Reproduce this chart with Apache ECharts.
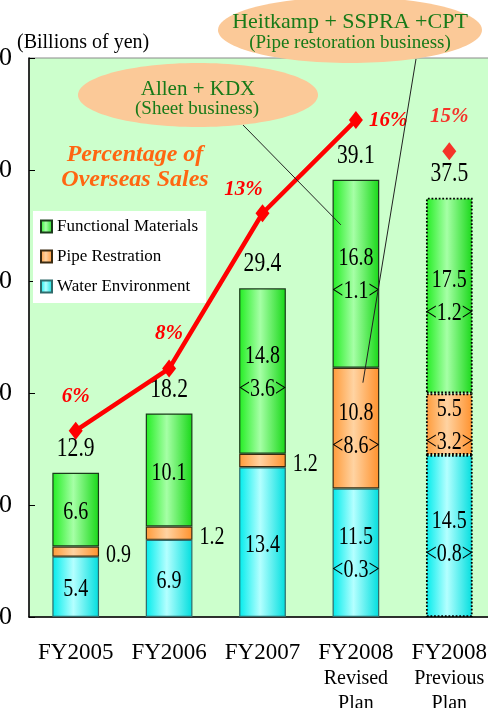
<!DOCTYPE html>
<html>
<head>
<meta charset="utf-8">
<script src="https://cdn.jsdelivr.net/npm/echarts@6/dist/echarts.min.js"></script>
<style>
  html, body { margin: 0; padding: 0; background: #ffffff; }
  #chart { width: 488px; height: 708px; }
</style>
</head>
<body>
<div id="chart"></div>
<script>
// Sales by business segment (billions of yen) and share of overseas sales
const years = ['FY2005', 'FY2006', 'FY2007', 'FY2008', 'FY2008'];
const yearNotes = ['', '', '', 'Revised\nPlan', 'Previous\nPlan'];
const waterEnv = [5.4, 6.9, 13.4, 11.5, 14.5];
const pipeRest = [0.9, 1.2, 1.2, 10.8, 5.5];
const functional = [6.6, 10.1, 14.8, 16.8, 17.5];
const totals = [12.9, 18.2, 29.4, 39.1, 37.5];
// overseas portion of each segment, shown in angle brackets
const waterOverseas = [null, null, null, 0.3, 0.8];
const pipeOverseas = [null, null, null, 8.6, 3.2];
const funcOverseas = [null, null, 3.6, 1.1, 1.2];
const overseasPct = [6, 8, 13, 16, 15];
const yTicks = [0, 10, 20, 30, 40, 50];

const SERIF = '"Liberation Serif", "Times New Roman", serif';
const categories = years.map((y, i) => yearNotes[i] ? y + '\n' + yearNotes[i] : y);
const planIndex = 4; // previous plan column, drawn with dotted outline

const grad = (a, b, c) => new echarts.graphic.LinearGradient(0, 0, 1, 0, [
  { offset: 0, color: a }, { offset: 0.45, color: b }, { offset: 1, color: c }
]);
const greenFill = grad('#22ee22', '#a6ffa6', '#18d818');
const orangeFill = grad('#ff9a38', '#ffd3a2', '#ff912c');
const cyanFill = grad('#00ecec', '#b4ffff', '#00dede');

const dotted = { borderType: 'dotted', borderColor: '#000', borderWidth: 1.8 };
const withPlanStyle = arr => arr.map((v, i) => i === planIndex ? { value: v, itemStyle: dotted } : v);

// text labels inside / beside / above the stacked bars (narrow serif look)
function renderBarLabels(params, api) {
  const i = api.value(0);
  const base = api.coord([i, 0]);
  const xc = base[0];
  const half = api.size([1, 0])[0] * 0.25;
  const w = waterEnv[i], p = pipeRest[i], f = functional[i];
  const yW = api.coord([i, w])[1];
  const yP = api.coord([i, w + p])[1];
  const yF = api.coord([i, w + p + f])[1];
  const kids = [];
  const txt = (s, x, y, align, size) => kids.push({
    type: 'text', x: x, y: y, scaleX: 0.8,
    style: { text: s, fill: '#000', fontSize: size || 25, fontFamily: SERIF, align: align || 'center', verticalAlign: 'middle' }
  });
  const seg = (val, extra, yBottom, yTop) => {
    const mid = (yBottom + yTop) / 2;
    if (yBottom - yTop < 28) {
      txt(val.toFixed(1), xc + half + 7, mid + 4, 'left');
    } else if (extra != null) {
      txt(val.toFixed(1), xc, mid - 15);
      txt('<' + extra.toFixed(1) + '>', xc, mid + 18);
    } else {
      txt(val.toFixed(1), xc, mid + 3);
    }
  };
  seg(w, waterOverseas[i], base[1], yW);
  seg(p, pipeOverseas[i], yW, yP);
  seg(f, funcOverseas[i], yP, yF);
  txt(totals[i].toFixed(1), xc, yF - 24, 'center', 27);
  return { type: 'group', children: kids };
}

const pctLabel = { show: true, formatter: '{c}%', color: '#ff0000', fontSize: 21, fontStyle: 'italic', fontWeight: 'bold', fontFamily: SERIF, position: 'top', distance: 15 };

const chart = echarts.init(document.getElementById('chart'));
chart.setOption({
  animation: false,
  grid: {
    left: 29, top: 58, width: 467, height: 559,
    outerBoundsMode: 'none', containLabel: false,
    show: true, backgroundColor: '#ccffcc', borderColor: '#8a8a8a', borderWidth: 1
  },
  legend: {
    data: ['Functional Materials', 'Pipe Restration', 'Water Environment'],
    orient: 'vertical', left: 33, top: 211,
    backgroundColor: '#ffffff', padding: [7, 8, 8, 7],
    itemGap: 13, itemWidth: 11, itemHeight: 12, icon: 'rect',
    textStyle: { fontSize: 17, fontFamily: SERIF, color: '#000' },
    selectedMode: false
  },
  xAxis: {
    type: 'category', data: categories,
    axisLine: { lineStyle: { color: '#000', width: 1.5 } },
    axisTick: { inside: true, length: 7, lineStyle: { color: '#444' } },
    axisLabel: {
      margin: 23, color: '#000', interval: 0,
      formatter: v => {
        const parts = v.split('\n');
        return ['{fy|' + parts[0] + '}'].concat(parts.slice(1).map(s => '{sub|' + s + '}')).join('\n');
      },
      rich: {
        fy: { fontSize: 23, fontFamily: SERIF, color: '#000', lineHeight: 26 },
        sub: { fontSize: 20, fontFamily: SERIF, color: '#000', lineHeight: 25 }
      }
    }
  },
  yAxis: [
    {
      type: 'value', min: yTicks[0], max: yTicks[yTicks.length - 1], interval: 10,
      axisLine: { show: true, lineStyle: { color: '#000', width: 1.5 } },
      axisTick: { show: true, inside: true, length: 6, lineStyle: { color: '#000' } },
      axisLabel: { margin: 17, fontSize: 26, fontFamily: SERIF, color: '#000' },
      splitLine: { show: false }
    },
    { type: 'value', min: 0, max: 18, show: false }
  ],
  series: [
    {
      name: 'Water Environment', type: 'bar', stack: 'sales', barWidth: '50%',
      itemStyle: { color: cyanFill, borderColor: '#2f6b6b', borderWidth: 1.2 },
      data: withPlanStyle(waterEnv)
    },
    {
      name: 'Pipe Restration', type: 'bar', stack: 'sales', barWidth: '50%',
      itemStyle: { color: orangeFill, borderColor: '#3a2a10', borderWidth: 1.2 },
      data: withPlanStyle(pipeRest)
    },
    {
      name: 'Functional Materials', type: 'bar', stack: 'sales', barWidth: '50%',
      itemStyle: { color: greenFill, borderColor: '#1a3a1a', borderWidth: 1.2 },
      data: withPlanStyle(functional)
    },
    {
      name: 'Bar labels', type: 'custom', coordinateSystem: 'cartesian2d', silent: true, z: 5,
      renderItem: renderBarLabels,
      encode: { x: 0, y: 1 },
      data: totals.map((t, i) => [i, t])
    },
    {
      name: 'Overseas share', type: 'line', yAxisIndex: 1, z: 6,
      symbol: 'diamond', symbolSize: [14, 18],
      lineStyle: { color: '#ff0000', width: 4.5 },
      itemStyle: { color: '#ff0000' },
      label: pctLabel,
      data: overseasPct.map((v, i) => {
        if (i === planIndex) return '-';
        if (i === 2) return { value: v, label: { offset: [-19, 11] } };
        if (i === 3) return { value: v, label: { position: 'right', distance: 6 } };
        return v;
      })
    },
    {
      name: 'Overseas share (previous plan)', type: 'scatter', yAxisIndex: 1, z: 6,
      symbol: 'diamond', symbolSize: [14, 18],
      itemStyle: { color: '#ff0000' },
      label: pctLabel,
      data: overseasPct.map((v, i) => i === planIndex ? v : '-')
    }
  ]
});

// callouts pointing at the FY2008 revised-plan column
const toPx = v => chart.convertToPixel({ xAxisIndex: 0, yAxisIndex: 0 }, [3, v]);
const sheetTip = toPx(totals[3]);
const pipeTip = toPx(waterEnv[3] + pipeRest[3]);
const calloutText = (s, x, y, size) => ({
  type: 'text', x: x, y: y, z: 12,
  style: { text: s, fill: '#187a18', fontSize: size, fontFamily: SERIF, align: 'center', verticalAlign: 'middle' }
});

chart.setOption({
  graphic: [
    { type: 'text', left: 17, top: 33, z: 12,
      style: { text: '(Billions of yen)', fill: '#000', fontSize: 20, fontFamily: SERIF } },
    { type: 'text', x: 135, y: 155, z: 12,
      style: { text: 'Percentage of', fill: '#ff6611', fontSize: 24, fontStyle: 'italic', fontWeight: 'bold', fontFamily: SERIF, align: 'center', verticalAlign: 'middle' } },
    { type: 'text', x: 135, y: 180, z: 12,
      style: { text: 'Overseas Sales', fill: '#ff6611', fontSize: 24, fontStyle: 'italic', fontWeight: 'bold', fontFamily: SERIF, align: 'center', verticalAlign: 'middle' } },
    { type: 'line', z: 10, shape: { x1: 243, y1: 125, x2: sheetTip[0] - 15, y2: sheetTip[1] + 45 },
      style: { stroke: '#222', lineWidth: 1 } },
    { type: 'line', z: 10, shape: { x1: 416, y1: 59, x2: pipeTip[0] + 7, y2: pipeTip[1] + 15 },
      style: { stroke: '#222', lineWidth: 1 } },
    { type: 'ellipse', z: 11, shape: { cx: 198, cy: 95, rx: 120, ry: 32 }, style: { fill: '#fbc998' } },
    { type: 'ellipse', z: 11, shape: { cx: 350, cy: 30, rx: 132, ry: 33 }, style: { fill: '#fbc998' } },
    calloutText('Allen + KDX', 198, 89, 21),
    calloutText('(Sheet business)', 197, 109, 19),
    calloutText('Heitkamp + SSPRA +CPT', 350, 22, 22),
    calloutText('(Pipe restoration business)', 350, 43, 19)
  ]
});
</script>
</body>
</html>
